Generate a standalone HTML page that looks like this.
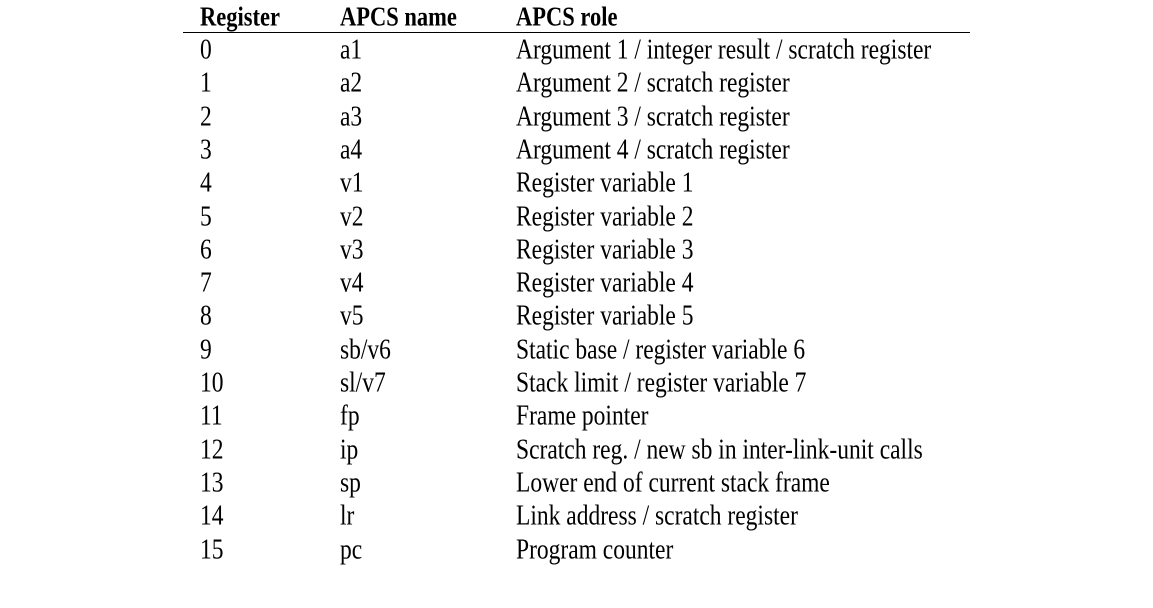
<!DOCTYPE html>
<html><head><meta charset="utf-8"><style>
html,body{margin:0;padding:0;background:#fff;}
body{width:1153px;height:608px;position:relative;overflow:hidden;font-family:"Liberation Serif",serif;color:#000;}
.c{position:absolute;font-size:23.5px;line-height:24px;white-space:nowrap;transform:scaleY(1.2);transform-origin:left center;}
.h{font-weight:bold;font-size:22.5px;}
#rule{position:absolute;left:183px;top:32px;width:787px;height:1px;background:#000;}
</style></head><body>
<div class="c h" style="left:200px;top:5px">Register</div>
<div class="c h" style="left:340px;top:5px">APCS name</div>
<div class="c h" style="left:516px;top:5px">APCS role</div>
<div id="rule"></div>
<div id="rows"></div>
<script>
const regs=["0","1","2","3","4","5","6","7","8","9","10","11","12","13","14","15"];
const names=["a1","a2","a3","a4","v1","v2","v3","v4","v5","sb/v6","sl/v7","fp","ip","sp","lr","pc"];
const roles=["Argument 1 / integer result / scratch register","Argument 2 / scratch register","Argument 3 / scratch register","Argument 4 / scratch register","Register variable 1","Register variable 2","Register variable 3","Register variable 4","Register variable 5","Static base / register variable 6","Stack limit / register variable 7","Frame pointer","Scratch reg. / new sb in inter-link-unit calls","Lower end of current stack frame","Link address / scratch register","Program counter"];
const rows=document.getElementById('rows');
const cols=[[regs,200,'register'],[names,340,'apcs-name'],[roles,516,'apcs-role']];
for(let i=0;i<regs.length;i++){
  const top=38+i*33.3;
  for(const [arr,x,n] of cols){
    const d=document.createElement('div');
    d.className='c';
    d.style.left=x+'px';d.style.top=top+'px';
    d.textContent=arr[i];
    
    
    rows.appendChild(d);
  }
}
</script>
</body></html>
